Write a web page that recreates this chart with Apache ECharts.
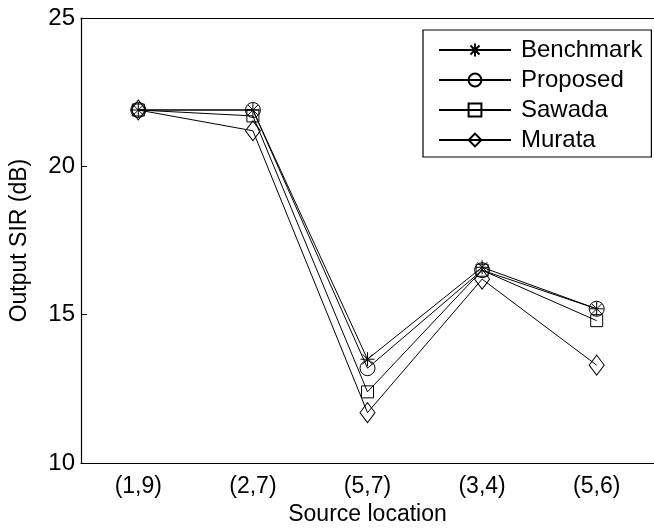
<!DOCTYPE html>
<html>
<head>
<meta charset="utf-8">
<script src="https://cdn.jsdelivr.net/npm/echarts@6/dist/echarts.min.js"></script>
<style>html,body{margin:0;padding:0;background:#fff;}#c{width:654px;height:531px;}</style>
</head>
<body>
<div id="c"></div>
<script>
var categories = ['(1,9)', '(2,7)', '(5,7)', '(3,4)', '(5,6)'];
var benchmark = [21.9, 21.9, 13.5, 16.6, 15.2];
var proposed  = [21.9, 21.9, 13.2, 16.5, 15.2];
var sawada    = [21.9, 21.7, 12.4, 16.5, 14.8];
var murata    = [21.9, 21.2, 11.7, 16.2, 13.3];
var yTicks = [10, 15, 20, 25];

var FONT = 'Liberation Sans, Arial, sans-serif';
var star = 'path://M0,-1L0,1M-1,0L1,0M-0.71,-0.71L0.71,0.71M-0.71,0.71L0.71,-0.71';

function mk(name, data, symbol, size) {
  return {
    name: name, type: 'line', data: data,
    symbol: symbol, symbolSize: size, showSymbol: true,
    lineStyle: { color: '#000', width: 1 },
    itemStyle: { color: 'rgba(0,0,0,0)', borderColor: '#000', borderWidth: 1 },
    emphasis: { disabled: true },
    animation: false, z: 3
  };
}

var chart = echarts.init(document.getElementById('c'));
chart.setOption({
  animation: false,
  backgroundColor: '#fff',
  grid: { left: 81, top: 18, right: -9, bottom: 63, containLabel: false },
  xAxis: [{
    type: 'category', data: categories, boundaryGap: true, position: 'bottom',
    axisLine: { lineStyle: { color: '#000', width: 1.2 } },
    axisTick: { inside: true, alignWithLabel: true, length: 6, lineStyle: { color: '#000' } },
    axisLabel: { color: '#000', fontSize: 23, fontFamily: FONT, margin: 12 },
    name: 'Source location', nameLocation: 'middle', nameGap: 38,
    nameTextStyle: { color: '#000', fontSize: 23, fontFamily: FONT },
    splitLine: { show: false }
  }, {
    type: 'category', data: categories, boundaryGap: true, position: 'top',
    axisLine: { lineStyle: { color: '#000', width: 1.2 } },
    axisTick: { inside: true, alignWithLabel: true, length: 6, lineStyle: { color: '#000' } },
    axisLabel: { show: false },
    splitLine: { show: false }
  }],
  yAxis: [{
    type: 'value', min: yTicks[0], max: yTicks[yTicks.length - 1], interval: 5,
    axisLine: { show: true, lineStyle: { color: '#000', width: 1.2 } },
    axisTick: { show: true, inside: true, length: 6, lineStyle: { color: '#000' } },
    axisLabel: { color: '#000', fontSize: 24, fontFamily: FONT, margin: 6 },
    splitLine: { show: false },
    name: 'Output SIR (dB)', nameLocation: 'middle', nameGap: 50,
    nameTextStyle: { color: '#000', fontSize: 23, fontFamily: FONT }
  }],
  legend: {
    orient: 'vertical', left: 423, top: 30,
    padding: [8, 9, 5, 15],
    itemWidth: 72, itemHeight: 16, itemGap: 6,
    backgroundColor: '#fff', borderColor: '#000', borderWidth: 1.2,
    textStyle: { color: '#000', fontSize: 24, lineHeight: 24, fontFamily: FONT, padding: [0, 0, 0, 5] },
    data: ['Benchmark', 'Proposed', 'Sawada', 'Murata']
  },
  series: [
    mk('Benchmark', benchmark, star, 14),
    mk('Proposed', proposed, 'circle', 15),
    mk('Sawada', sawada, 'rect', 12),
    mk('Murata', murata, 'diamond', [15, 20])
  ]
});
</script>
</body>
</html>
